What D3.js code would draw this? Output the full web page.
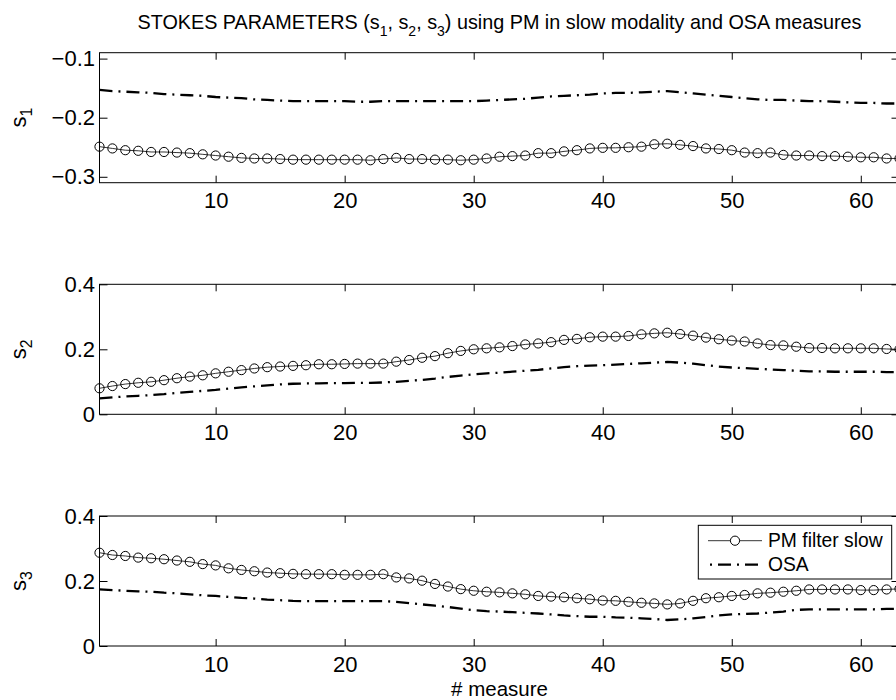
<!DOCTYPE html>
<html>
<head>
<meta charset="utf-8">
<script src="https://cdn.jsdelivr.net/npm/d3@7/dist/d3.min.js"></script>
<style>
  html, body { margin: 0; padding: 0; background: #fff; }
  svg { display: block; }
  text { font-family: "Liberation Sans", Arial, Helvetica, sans-serif; fill: #000; }
</style>
</head>
<body>
<svg id="chart" width="896" height="700"></svg>
<script>
// ---------- DATA ----------
const measures = d3.range(1, 64);            // measure index 1..63
const xTicks = [10, 20, 30, 40, 50, 60];

const s1PM = [-0.249,-0.252,-0.255,-0.256,-0.258,-0.258,-0.259,-0.260,-0.262,-0.264,
  -0.266,-0.268,-0.269,-0.269,-0.270,-0.271,-0.271,-0.271,-0.271,-0.271,
  -0.271,-0.272,-0.270,-0.268,-0.270,-0.270,-0.271,-0.271,-0.272,-0.271,
  -0.269,-0.266,-0.265,-0.264,-0.260,-0.260,-0.257,-0.255,-0.252,-0.251,
  -0.251,-0.250,-0.249,-0.245,-0.244,-0.246,-0.248,-0.252,-0.253,-0.255,
  -0.259,-0.260,-0.259,-0.263,-0.264,-0.264,-0.265,-0.265,-0.266,-0.267,
  -0.267,-0.269,-0.269];
const s1OSA = [-0.153,-0.155,-0.156,-0.157,-0.158,-0.160,-0.161,-0.162,-0.163,-0.165,
  -0.166,-0.167,-0.169,-0.170,-0.171,-0.172,-0.172,-0.172,-0.172,-0.172,
  -0.173,-0.173,-0.172,-0.172,-0.172,-0.172,-0.172,-0.172,-0.172,-0.172,
  -0.171,-0.170,-0.169,-0.168,-0.166,-0.164,-0.163,-0.162,-0.161,-0.159,
  -0.158,-0.158,-0.157,-0.156,-0.155,-0.157,-0.159,-0.161,-0.163,-0.165,
  -0.167,-0.169,-0.170,-0.170,-0.171,-0.172,-0.172,-0.173,-0.174,-0.175,
  -0.175,-0.176,-0.176];

const s2PM = [0.080,0.087,0.093,0.097,0.100,0.105,0.111,0.116,0.120,0.126,
  0.131,0.136,0.141,0.145,0.147,0.149,0.151,0.154,0.154,0.155,
  0.156,0.156,0.156,0.162,0.167,0.174,0.179,0.188,0.195,0.200,
  0.203,0.206,0.210,0.215,0.218,0.222,0.229,0.232,0.237,0.239,
  0.239,0.241,0.246,0.249,0.251,0.247,0.242,0.236,0.231,0.227,
  0.224,0.218,0.213,0.212,0.208,0.204,0.204,0.203,0.203,0.203,
  0.203,0.201,0.200];
const s2OSA = [0.049,0.052,0.055,0.057,0.059,0.062,0.066,0.069,0.072,0.075,
  0.079,0.083,0.086,0.089,0.092,0.094,0.095,0.095,0.096,0.096,
  0.097,0.097,0.098,0.100,0.103,0.106,0.110,0.115,0.119,0.123,
  0.126,0.128,0.131,0.134,0.137,0.141,0.145,0.148,0.150,0.151,
  0.153,0.155,0.157,0.159,0.161,0.159,0.156,0.151,0.147,0.144,
  0.142,0.140,0.138,0.136,0.134,0.132,0.132,0.131,0.131,0.131,
  0.131,0.130,0.130];

const s3PM = [0.287,0.280,0.277,0.272,0.270,0.267,0.263,0.259,0.252,0.248,
  0.239,0.234,0.230,0.226,0.224,0.222,0.221,0.221,0.221,0.219,
  0.219,0.219,0.221,0.211,0.208,0.201,0.191,0.183,0.175,0.170,
  0.167,0.165,0.162,0.159,0.154,0.152,0.150,0.147,0.144,0.140,
  0.139,0.136,0.133,0.131,0.128,0.131,0.139,0.147,0.150,0.154,
  0.157,0.162,0.164,0.167,0.170,0.174,0.174,0.174,0.174,0.172,
  0.172,0.174,0.176];
const s3OSA = [0.174,0.172,0.170,0.168,0.167,0.164,0.162,0.159,0.156,0.154,
  0.151,0.148,0.146,0.143,0.141,0.139,0.138,0.138,0.138,0.138,
  0.138,0.138,0.138,0.136,0.132,0.128,0.124,0.120,0.115,0.110,
  0.107,0.106,0.104,0.102,0.100,0.097,0.094,0.092,0.090,0.090,
  0.088,0.087,0.085,0.083,0.080,0.082,0.085,0.089,0.094,0.097,
  0.099,0.100,0.103,0.106,0.111,0.113,0.113,0.113,0.113,0.113,
  0.113,0.114,0.114];

const panelNames = ["1", "2", "3"];
const yDomains = [[-0.31, -0.09], [0, 0.4], [0, 0.4]];
const yTicks = [[-0.3, -0.2, -0.1], [0, 0.2, 0.4], [0, 0.2, 0.4]];
const pmSeries = [s1PM, s2PM, s3PM];
const osaSeries = [s1OSA, s2OSA, s3OSA];
const legendLabels = ["PM filter slow", "OSA"];
const titleParts = ["STOKES PARAMETERS (s", "1", ", s", "2", ", s", "3", ") using PM in slow modality and OSA measures"];
const xLabel = "# measure";

// ---------- LAYOUT ----------
const svg = d3.select("#chart");
const L = 99.5, R = 899.5;
const panelTops = [52.7, 284.3, 516];
const panelH = 130;
const FS = 22;
const OSA_DASH = "13,6,2,6";

const x = d3.scaleLinear().domain([1, 63]).range([L, R]);
const fmt = v => (v < 0 ? "\u2212" : "") + (v === 0 ? "0" : String(Math.abs(v)));

panelNames.forEach((nm, i) => {
  const top = panelTops[i], bot = top + panelH;
  const y = d3.scaleLinear().domain(yDomains[i]).range([bot, top]);
  const g = svg.append("g");

  // axes
  const xb = g.append("g").attr("transform", `translate(0,${bot})`)
    .call(d3.axisBottom(x).tickValues(xTicks).tickSizeInner(-7).tickSizeOuter(0).tickPadding(10));
  const xt = g.append("g").attr("transform", `translate(0,${top})`)
    .call(d3.axisTop(x).tickValues(xTicks).tickSizeInner(-7).tickSizeOuter(0).tickFormat(""));
  const yl = g.append("g").attr("transform", `translate(${L},0)`)
    .call(d3.axisLeft(y).tickValues(yTicks[i]).tickSizeInner(-8).tickSizeOuter(0).tickPadding(4.5).tickFormat(fmt));
  const yr = g.append("g").attr("transform", `translate(${R},0)`)
    .call(d3.axisRight(y).tickValues(yTicks[i]).tickSizeInner(-8).tickSizeOuter(0).tickFormat(""));
  [xb, xt, yl, yr].forEach(a => {
    a.select(".domain").remove();
    a.selectAll(".tick line").attr("stroke", "#000").attr("stroke-width", 1);
    a.selectAll("text").attr("font-size", FS).attr("font-family", "Liberation Sans, Arial, sans-serif").attr("fill", "#000");
  });

  // box
  g.append("rect").attr("x", L).attr("y", top).attr("width", R - L).attr("height", panelH)
    .attr("fill", "none").attr("stroke", "#000").attr("stroke-width", 1);

  // clip
  const clipId = "clip" + i;
  svg.append("clipPath").attr("id", clipId).append("rect")
    .attr("x", L - 6).attr("y", top - 6).attr("width", R - L + 12).attr("height", panelH + 12);
  const plot = g.append("g").attr("clip-path", `url(#${clipId})`);

  const line = d3.line().x((d, k) => x(measures[k])).y(d => y(d));

  // OSA dash-dot
  plot.append("path").datum(osaSeries[i]).attr("d", line)
    .attr("fill", "none").attr("stroke", "#000").attr("stroke-width", 2.3)
    .attr("stroke-dasharray", OSA_DASH);

  // PM line + circles
  plot.append("path").datum(pmSeries[i]).attr("d", line)
    .attr("fill", "none").attr("stroke", "#000").attr("stroke-width", 0.8);
  plot.selectAll("circle").data(pmSeries[i]).join("circle")
    .attr("cx", (d, k) => x(measures[k])).attr("cy", d => y(d)).attr("r", 4.6)
    .attr("fill", "none").attr("stroke", "#000").attr("stroke-width", 1);

  // y label s_i
  const yc = (top + bot) / 2;
  const lab = svg.append("text").attr("transform", `translate(26,${yc}) rotate(-90)`)
    .attr("text-anchor", "middle").attr("font-size", FS);
  lab.append("tspan").text("s");
  lab.append("tspan").attr("font-size", FS * 0.72).attr("dy", 6).text(nm);
});

// title
const title = svg.append("text").attr("x", 499.5).attr("y", 29).attr("text-anchor", "middle").attr("font-size", 19.8);
titleParts.forEach((p, k) => {
  if (k % 2 === 1) {
    title.append("tspan").attr("font-size", 14).attr("dy", 7).text(p);
  } else {
    title.append("tspan").attr("dy", k === 0 ? 0 : -7).text(p);
  }
});

// x label
svg.append("text").attr("x", 499.5).attr("y", 695.5).attr("text-anchor", "middle").attr("font-size", 20.5).text(xLabel);

// legend
const lg = svg.append("g");
lg.append("rect").attr("x", 698.3).attr("y", 525.3).attr("width", 193.4).attr("height", 53.7)
  .attr("fill", "#fff").attr("stroke", "#000").attr("stroke-width", 1);
const rows = [540.7, 564.7];
lg.append("line").attr("x1", 708).attr("x2", 762).attr("y1", rows[0]).attr("y2", rows[0])
  .attr("stroke", "#000").attr("stroke-width", 0.8);
lg.append("circle").attr("cx", 735).attr("cy", rows[0]).attr("r", 4.6)
  .attr("fill", "#fff").attr("stroke", "#000").attr("stroke-width", 1);
lg.append("line").attr("x1", 708).attr("x2", 762).attr("y1", rows[1]).attr("y2", rows[1])
  .attr("stroke", "#000").attr("stroke-width", 2.3).attr("stroke-dasharray", OSA_DASH).attr("stroke-dashoffset", 17);
legendLabels.forEach((t, k) => {
  lg.append("text").attr("x", 768).attr("y", rows[k]).attr("dy", "0.35em").attr("font-size", 19.3).text(t);
});
</script>
</body>
</html>
